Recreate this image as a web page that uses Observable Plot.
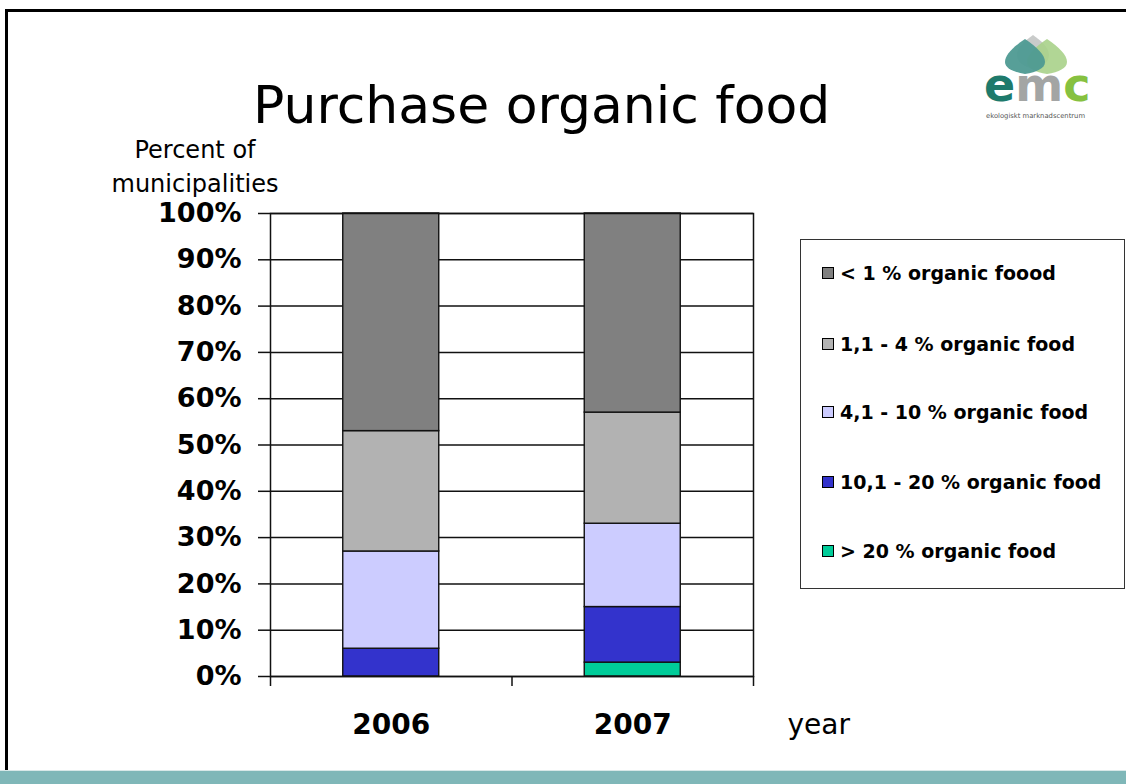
<!DOCTYPE html>
<html>
<head>
<meta charset="utf-8">
<script src="https://cdn.jsdelivr.net/npm/d3@7"></script>
<script src="https://cdn.jsdelivr.net/npm/@observablehq/plot@0.6"></script>
<style>
  html, body { margin:0; padding:0; background:#fff; }
  body { width:1126px; height:784px; position:relative; overflow:hidden; font-family:"DejaVu Sans", Verdana, sans-serif; }
  #chart { position:absolute; left:0; top:0; }
  .abs { position:absolute; white-space:nowrap; }
  #title { left:253px; top:75px; font-size:52px; line-height:60px; color:#000; }
  #ylab { left:95px; top:133px; width:200px; text-align:center; font-size:24px; line-height:34px; color:#000; }
  #legend { left:800px; top:239px; width:325px; height:350px; border:1.5px solid #333; background:#fff; box-sizing:border-box; }
  .li { position:absolute; left:21px; font-size:19px; font-weight:bold; display:flex; align-items:center; }
  .sw { width:10px; height:10px; border:1px solid #000; margin-right:6px; display:inline-block; }
  #frameL { left:5px; top:9px; width:3px; height:762px; background:#000; }
  #frameT { left:5px; top:9px; width:1121px; height:3px; background:#000; }
  #band { left:0; top:770px; width:1126px; height:14px; background:#7fb7b8; border-top:1px solid #d8e8e8; }
</style>
</head>
<body>
<div id="chart"></div>
<div class="abs" id="frameL"></div>
<div class="abs" id="frameT"></div>
<div class="abs" id="band"></div>
<div class="abs" id="title">Purchase organic food</div>
<div class="abs" id="ylab">Percent of<br>municipalities</div>
<div class="abs" id="legend"></div>
<svg class="abs" style="left:975px;top:28px" width="130" height="94" viewBox="0 0 130 94">
  <path d="M58 7 C66 13 74 19 74 27 C74 35 66 39 58 41 C50 39 42 35 42 27 C42 19 50 13 58 7Z" fill="#c9cbca"/>
  <path d="M72 11 C84 19 92 27 92 34 C92 40 84 44 72 46 C60 44 52 40 52 34 C52 27 60 19 72 11Z" fill="#a8d18a" opacity="0.9"/>
  <path d="M50 11 C62 19 70 27 70 34 C70 40 62 44 50 46 C38 44 30 40 30 34 C30 27 38 19 50 11Z" fill="#4e9a92" opacity="0.95"/>
  <text x="9" y="73" font-family="DejaVu Sans" font-weight="bold" font-size="46"><tspan fill="#1e7a6c">e</tspan><tspan fill="#a3a5a4">m</tspan><tspan fill="#86c140">c</tspan></text>
  <text x="11" y="90" font-family="DejaVu Sans" font-size="6.8" fill="#555">ekologiskt marknadscentrum</text>
</svg>
<script>
const years = ["2006", "2007"];
const categories = [
  "> 20 % organic food",
  "10,1 - 20 % organic food",
  "4,1 - 10 % organic food",
  "1,1 - 4 % organic food",
  "< 1 % organic foood"
];
const colors = ["#00CC99", "#3333CC", "#CCCCFF", "#B2B2B2", "#808080"];
const values2006 = [0, 6, 21, 26, 47];
const values2007 = [3, 12, 18, 24, 43];
const yTicks = [0, 10, 20, 30, 40, 50, 60, 70, 80, 90, 100];
const legendOrder = [4, 3, 2, 1, 0];

const seriesByYear = [values2006, values2007];
const table = [];
years.forEach((yr, i) => {
  categories.forEach((c, j) => {
    table.push({year: yr, idx: i, cat: c, value: seriesByYear[i][j]});
  });
});

const chart = Plot.plot({
  width: 1126,
  height: 784,
  marginLeft: 270,
  marginRight: 373,
  marginTop: 213,
  marginBottom: 108,
  style: {fontFamily: "DejaVu Sans, Verdana, sans-serif", background: "transparent", color: "#000", overflow: "visible"},
  x: {type: "linear", domain: [0, years.length], axis: null},
  y: {domain: [0, 100], axis: null},
  color: {domain: categories, range: colors},
  marks: [
    Plot.ruleY(yTicks, {stroke: "#111", strokeWidth: 1.5}),
    Plot.rectY(table, Plot.stackY({
      x: "idx", interval: 1, y: "value", fill: "cat", order: categories,
      insetLeft: 72.75, insetRight: 72.75, stroke: "#111", strokeWidth: 1.4
    })),
    Plot.frame({stroke: "#111", strokeWidth: 1.5}),
    Plot.axisY({ticks: yTicks, tickSize: 12, tickPadding: 17, tickFormat: d => d + "%", label: null,
      fontSize: 27, fontWeight: "bold", stroke: "#111", strokeWidth: 1.5}),
    Plot.axisX({ticks: d3.range(years.length + 1), tickSize: 10, tickFormat: () => "", label: null,
      stroke: "#111", strokeWidth: 1.5}),
    Plot.text(years, {x: (d, i) => i + 0.5, y: () => 0, dy: 49, text: d => d,
      fontSize: 28, fontWeight: "bold", fill: "#000"}),
    Plot.text(["year"], {x: () => years.length, y: () => 0, dx: 34, dy: 49, text: d => d,
      textAnchor: "start", fontSize: 28, fill: "#000"})
  ]
});
document.getElementById("chart").appendChild(chart);

const rowsY = [273, 344, 412, 482, 551];
const legend = document.getElementById("legend");
legendOrder.forEach((j, k) => {
  const row = document.createElement("div");
  row.className = "li";
  row.style.top = (rowsY[k] - 239 - 12) + "px";
  row.style.height = "22px";
  const sw = document.createElement("span");
  sw.className = "sw";
  sw.style.background = colors[j];
  row.appendChild(sw);
  const t = document.createElement("span");
  t.textContent = categories[j];
  row.appendChild(t);
  legend.appendChild(row);
});
</script>
</body>
</html>
